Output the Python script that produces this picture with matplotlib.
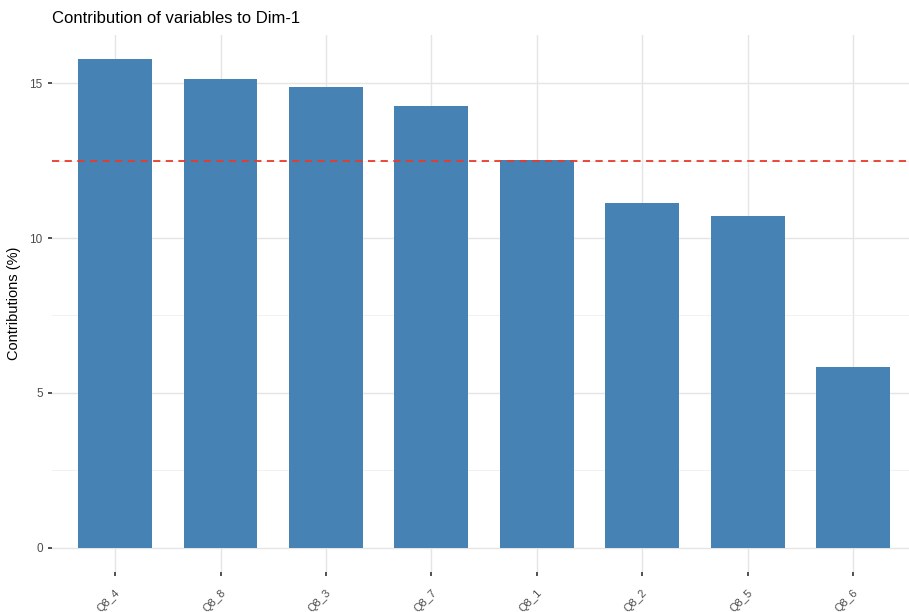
import numpy as np
import matplotlib.pyplot as plt

plt.rcParams['font.family'] = ['Liberation Sans', 'DejaVu Sans']

# contributions
variables = ['Q8_4', 'Q8_8', 'Q8_3', 'Q8_7', 'Q8_1', 'Q8_2', 'Q8_5', 'Q8_6']
contrib = [15.78, 15.16, 14.90, 14.26, 12.54, 11.12, 10.73, 5.85]
expected = 100 / len(variables)

fig = plt.figure(figsize=(9.09, 6.12), dpi=100)
ax = fig.add_axes([0.057, 0.0654, 0.943, 0.8776])

x = np.arange(len(variables))
ax.bar(x, contrib, width=0.7, color='#4682B4', zorder=2)
ax.axhline(expected, color='#E8392B', linestyle=(0, (4, 3)), linewidth=1.3, zorder=3)

ax.set_xlim(-0.6, 7.53)
ax.set_ylim(-0.79, 16.57)
ax.set_yticks([0, 5, 10, 15])
ax.set_yticks([2.5, 7.5, 12.5], minor=True)
ax.set_xticks(x)
ax.set_xticklabels(variables, rotation=45, ha='right', va='top',
                   rotation_mode='anchor', fontsize=8, color='#4D4D4D')
ax.tick_params(axis='y', labelsize=8.5, labelcolor='#4D4D4D', length=3,
               color='#333333', width=1.2)
ax.tick_params(axis='x', length=3, color='#333333', width=1.2, pad=8)
ax.tick_params(axis='y', which='minor', length=0)

ax.grid(True, which='major', color='#E5E5E5', linewidth=1.0, zorder=0)
ax.grid(True, which='minor', axis='y', color='#EFEFEF', linewidth=0.6, zorder=0)
for s in ax.spines.values():
    s.set_visible(False)
ax.set_axisbelow(True)

ax.set_ylabel('Contributions (%)', fontsize=10.5, labelpad=6)
fig.text(0.057, 0.969, 'Contribution of variables to Dim-1', fontsize=12,
         ha='left', va='center')

fig.savefig('out.png', dpi=100)
